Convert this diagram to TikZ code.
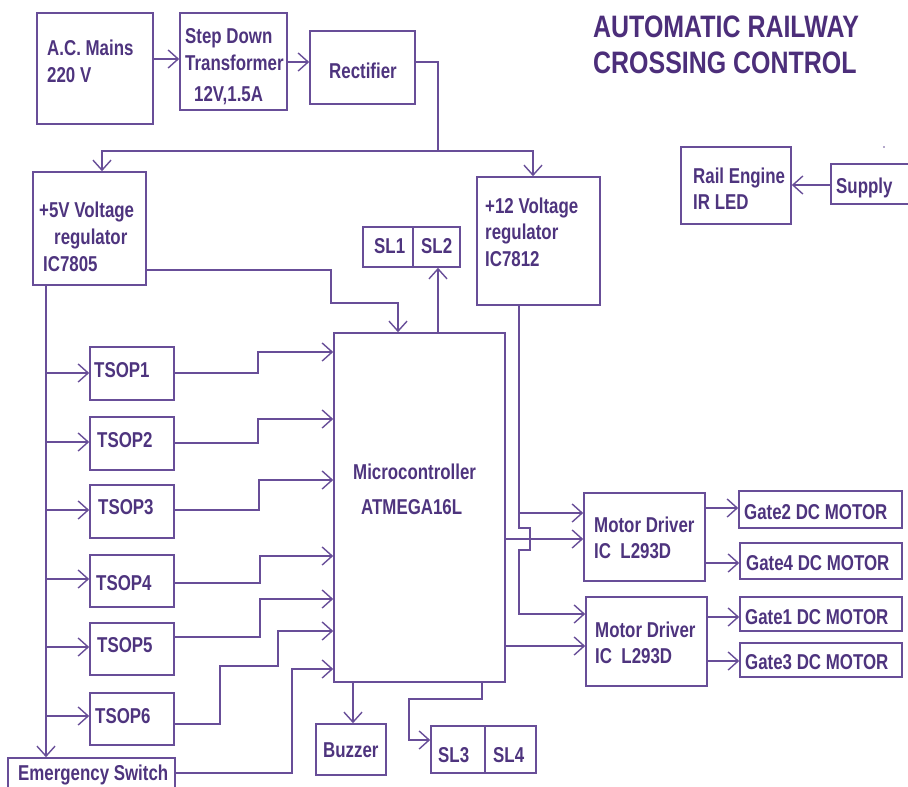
\documentclass[tikz,border=0pt]{standalone}
\usepackage{fontspec}
\newfontfamily\lblfont[FakeStretch=0.785]{Liberation Sans}
\newfontfamily\ttlfont[FakeStretch=0.805]{Liberation Sans}
\usetikzlibrary{arrows.meta}
\definecolor{lc}{RGB}{104,78,152}
\definecolor{tc}{RGB}{78,52,126}
\definecolor{ttc}{RGB}{76,46,122}
\tikzset{
  box/.style={draw=lc, line width=1.6pt, inner sep=0pt, fill=none},
  lbl/.style={anchor=base west, inner sep=0pt, text=tc, font=\lblfont\bfseries\fontsize{21.5pt}{26pt}\selectfont},
  ttl/.style={anchor=base west, inner sep=0pt, text=ttc, font=\ttlfont\bfseries\fontsize{31pt}{36pt}\selectfont},
  wire/.style={draw=lc, line width=1.6pt},
  arr/.style={wire, -{Straight Barb[length=10pt,width=18pt,line width=1.4pt]}},
}
\begin{document}
\begin{tikzpicture}[x=1pt,y=-1pt]
\useasboundingbox (0,0) rectangle (908,787);
% boxes
\node[box, minimum width=116pt, minimum height=111pt] (mains) at (95,68.5) {};
\node[box, minimum width=107pt, minimum height=97pt] (step) at (233.5,61.5) {};
\node[box, minimum width=105pt, minimum height=73pt] (rect) at (362.5,67.5) {};
\node[box, minimum width=113pt, minimum height=113pt] (v5) at (89.5,228.5) {};
\node[box, minimum width=123pt, minimum height=128pt] (v12) at (538.5,241) {};
\node[box, minimum width=50pt, minimum height=40pt] (sl1) at (388,247) {};
\node[box, minimum width=47pt, minimum height=40pt] (sl2) at (436.5,247) {};
\node[box, minimum width=171pt, minimum height=349pt] (mcu) at (419.5,507.5) {};
\node[box, minimum width=110pt, minimum height=77pt] (rail) at (736,185.5) {};
\node[box, minimum width=81pt, minimum height=40pt] (supply) at (871.5,184) {};
\node[box, minimum width=84pt, minimum height=53pt] (ts1) at (132,373.5) {};
\node[box, minimum width=84pt, minimum height=53pt] (ts2) at (132,443.5) {};
\node[box, minimum width=84pt, minimum height=53pt] (ts3) at (132,511.5) {};
\node[box, minimum width=84pt, minimum height=52pt] (ts4) at (132,581) {};
\node[box, minimum width=84pt, minimum height=52pt] (ts5) at (132,649) {};
\node[box, minimum width=84pt, minimum height=52pt] (ts6) at (132,719) {};
\node[box, minimum width=167pt, minimum height=37pt] (emerg) at (91.5,776.5) {};
\node[box, minimum width=70pt, minimum height=51pt] (buzz) at (351,749.5) {};
\node[box, minimum width=54pt, minimum height=47pt] (sl3) at (458,749.5) {};
\node[box, minimum width=51pt, minimum height=47pt] (sl4) at (510.5,749.5) {};
\node[box, minimum width=121pt, minimum height=88pt] (md1) at (644.5,537) {};
\node[box, minimum width=121pt, minimum height=89pt] (md2) at (646.5,641.5) {};
\node[box, minimum width=163pt, minimum height=37pt] (g2) at (820.5,509.5) {};
\node[box, minimum width=162pt, minimum height=36pt] (g4) at (821,561) {};
\node[box, minimum width=162pt, minimum height=34pt] (g1) at (821,614) {};
\node[box, minimum width=162pt, minimum height=34pt] (g3) at (821,660) {};
% texts
\node[ttl] (title1) at (593,37) {AUTOMATIC RAILWAY};
\node[ttl] (title2) at (593,73) {CROSSING CONTROL};
\node[lbl] (tm1) at (47,55) {A.C. Mains};
\node[lbl] (tm2) at (47,82) {220 V};
\node[lbl] (ts1a) at (185,43) {Step Down};
\node[lbl] (ts1b) at (185,70) {Transformer};
\node[lbl] (ts1c) at (194,101) {12V,1.5A};
\node[lbl] (tr) at (329,78) {Rectifier};
\node[lbl] (t5a) at (39,217) {+5V Voltage};
\node[lbl] (t5b) at (54,244) {regulator};
\node[lbl] (t5c) at (43,271) {IC7805};
\node[lbl] (tsl1) at (374,253) {SL1};
\node[lbl] (tsl2) at (421,253) {SL2};
\node[lbl] (t12a) at (485,213) {+12 Voltage};
\node[lbl] (t12b) at (485,239) {regulator};
\node[lbl] (t12c) at (485,266) {IC7812};
\node[lbl] (tra) at (693,183) {Rail Engine};
\node[lbl] (trb) at (693,209) {IR LED};
\node[lbl] (tsu) at (836,193) {Supply};
\node[lbl] (tt1) at (94,377) {TSOP1};
\node[lbl] (tt2) at (97,447) {TSOP2};
\node[lbl] (tt3) at (98,514) {TSOP3};
\node[lbl] (tt4) at (96,590) {TSOP4};
\node[lbl] (tt5) at (97,652) {TSOP5};
\node[lbl] (tt6) at (95,723) {TSOP6};
\node[lbl] (tmc1) at (353,479) {Microcontroller};
\node[lbl] (tmc2) at (361,514) {ATMEGA16L};
\node[lbl] (tem) at (18,780) {Emergency Switch};
\node[lbl] (tbz) at (323,757) {Buzzer};
\node[lbl] (tsl3) at (438,762) {SL3};
\node[lbl] (tsl4) at (493,762) {SL4};
\node[lbl] (tmd1a) at (594,532) {Motor Driver};
\node[lbl] (tmd1b) at (594,558) {IC\ \ L293D};
\node[lbl] (tmd2a) at (595,637) {Motor Driver};
\node[lbl] (tmd2b) at (595,663) {IC\ \ L293D};
\node[lbl] (tg2) at (744,519) {Gate2 DC MOTOR};
\node[lbl] (tg4) at (746,570) {Gate4 DC MOTOR};
\node[lbl] (tg1) at (745,624) {Gate1 DC MOTOR};
\node[lbl] (tg3) at (745,669) {Gate3 DC MOTOR};
% stray dot
\fill[lc] (884,147) circle (0.9pt);
% power chain
\draw[arr] (mains.east |- 0,59) -- (step.west |- 0,59);
\draw[arr] (step.east |- 0,62) -- (rect.west |- 0,62);
\coordinate (bus) at (438,151);
\draw[wire] (rect.east |- 0,62) -| (bus);
\draw[arr] (bus) -| (v5.north -| 102,0);
\draw[arr] (bus) -| (v12.north -| 533,0);
\draw[arr] (v5.east |- 0,270) -- (331,270) -- (331,303) -- (398,303) -- (mcu.north -| 398,0);
\draw[arr] (mcu.north -| 438,0) -- (sl2.south -| 438,0);
% 5V distribution
\draw[arr] (v5.south -| 46,0) -- (emerg.north -| 46,0);
\draw[arr] (46,373) -- (ts1.west |- 0,373);
\draw[arr] (46,442) -- (ts2.west |- 0,442);
\draw[arr] (46,510) -- (ts3.west |- 0,510);
\draw[arr] (46,579) -- (ts4.west |- 0,579);
\draw[arr] (46,647) -- (ts5.west |- 0,647);
\draw[arr] (46,716) -- (ts6.west |- 0,716);
% sensors to mcu
\draw[arr] (ts1.east |- 0,373) -- (258,373) -- (258,352) -- (mcu.west |- 0,352);
\draw[arr] (ts2.east |- 0,443) -- (258,443) -- (258,419) -- (mcu.west |- 0,419);
\draw[arr] (ts3.east |- 0,510) -- (259,510) -- (259,480) -- (mcu.west |- 0,480);
\draw[arr] (ts4.east |- 0,583) -- (260,583) -- (260,556) -- (mcu.west |- 0,556);
\draw[arr] (ts5.east |- 0,637) -- (260,637) -- (260,599) -- (mcu.west |- 0,599);
\draw[arr] (ts6.east |- 0,724) -- (220,724) -- (220,666) -- (278,666) -- (278,631) -- (mcu.west |- 0,631);
\draw[arr] (emerg.east |- 0,773) -- (292,773) -- (292,669) -- (mcu.west |- 0,669);
% mcu outputs bottom
\draw[arr] (mcu.south -| 353,0) -- (buzz.north -| 353,0);
\draw[arr] (mcu.south -| 482,0) -- (482,699) -- (409,699) -- (409,740) -- (sl3.west |- 0,740);
% 12V to motor drivers
\draw[arr] (v12.south -| 519,0) -- (519,513) -- (md1.west |- 0,513);
\draw[arr] (519,513) -- (519,528) -- (530,528) -- (530,550) -- (519,550) -- (519,614) -- (md2.west |- 0,614);
\draw[arr] (mcu.east |- 0,539) -- (md1.west |- 0,539);
\draw[arr] (mcu.east |- 0,646) -- (md2.west |- 0,646);
% drivers to motors
\draw[arr] (md1.east |- 0,508) -- (g2.west |- 0,508);
\draw[arr] (md1.east |- 0,563) -- (g4.west |- 0,563);
\draw[arr] (md2.east |- 0,617) -- (g1.west |- 0,617);
\draw[arr] (md2.east |- 0,661) -- (g3.west |- 0,661);
% supply to rail engine
\draw[arr] (supply.west |- 0,185) -- (rail.east |- 0,185);
\end{tikzpicture}
\end{document}
